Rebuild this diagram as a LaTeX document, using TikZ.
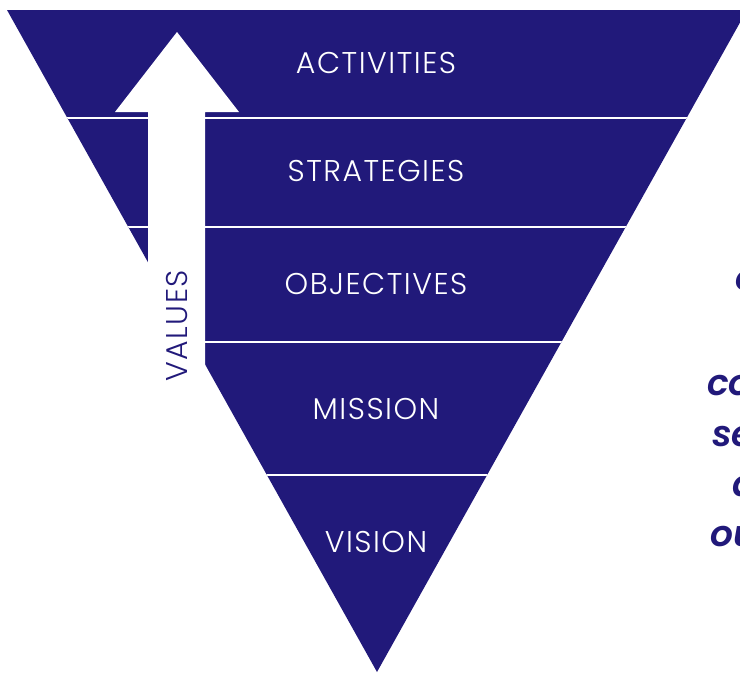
\documentclass[tikz,border=0pt]{standalone}
\usepackage{fontspec}
\setmainfont{Poppins}
\newfontfamily\finita{Poppins Light}[LetterSpace=5]
\newfontfamily\gruesa{Poppins SemiBold Italic}
\definecolor{azul}{RGB}{33,25,122}
\tikzset{
  nivel/.style={font=\finita\fontsize{30}{32}\selectfont, text=white},
  lado/.style={font=\gruesa\fontsize{36}{40}\selectfont, text=azul,
    anchor=base west, inner sep=0pt},
}
\begin{document}
\begin{tikzpicture}[x=1pt, y=-1pt, line join=round]
  \useasboundingbox (0,0) rectangle (740,673);
  % el triángulo invertido
  \fill[azul] (7,10) -- (747,10) -- (377,672) -- cycle;
  % las líneas entre los niveles
  \begin{scope}
    \clip (7,10) -- (747,10) -- (377,672) -- cycle;
    \foreach \y in {118,227,342,475} {
      \draw[white, line width=1.6pt] (0,\y) -- (740,\y);
    }
  \end{scope}
  % la flecha de los valores
  \fill[white] (177,32) -- (239,112) -- (205,112) -- (205,380) -- (148,380)
    -- (148,112) -- (115,112) -- cycle;
  \node[nivel, text=azul, rotate=90] (valores) at (177,326) {VALUES};
  % los niveles, de arriba abajo
  \node[nivel] (actividades) at (376,63) {ACTIVITIES};
  \node[nivel] (estrategias) at (376,171) {STRATEGIES};
  \node[nivel] (objetivos) at (376,284) {OBJECTIVES};
  \node[nivel] (mision) at (376,409) {MISSION};
  \node[nivel] (vision) at (376,542) {VISION};
  % el texto de la derecha, cortado por el borde
  \node[lado] (frase1) at (735,290) {o};
  \node[lado] (frase2) at (707,395) {co};
  \node[lado] (frase3) at (712,446) {se};
  \node[lado] (frase4) at (732,496) {a};
  \node[lado] (frase5) at (710,546) {ou};
\end{tikzpicture}
\end{document}
